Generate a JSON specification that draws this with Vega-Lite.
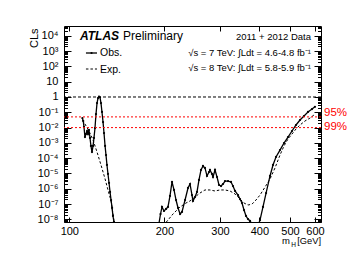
{
"$schema": "https://vega.github.io/schema/vega-lite/v6.json",
"width": 257, "height": 196,
"autosize": {"type": "none"},
"padding": {"left": 64, "top": 26, "right": 39, "bottom": 46},
"background": "white",
"config": {
  "view": {"stroke": "black", "strokeWidth": 1},
  "font": "Liberation Sans",
  "axis": {"domain": false, "grid": false, "labelFont": "Liberation Sans", "labelFontSize": 11, "labelColor": "black", "tickColor": "black", "tickWidth": 1, "titleFont": "Liberation Sans", "titleColor": "black", "titleFontWeight": "normal"},
  "text": {"font": "Liberation Sans", "color": "black"}
},
"datasets": {
  "obs": [
    {"m":110.0,"cls":0.042},{"m":110.7,"cls":0.027},{"m":111.3,"cls":0.011},{"m":112.1,"cls":0.0024},{"m":112.9,"cls":0.0038},{"m":113.8,"cls":0.006},{"m":114.6,"cls":0.0038},{"m":115.4,"cls":0.007},{"m":116.3,"cls":0.0021},{"m":117.1,"cls":0.00063},{"m":118.0,"cls":0.00025},{"m":118.9,"cls":0.00063},{"m":119.7,"cls":0.0021},{"m":120.6,"cls":0.0094},{"m":121.5,"cls":0.077},{"m":122.4,"cls":0.40},{"m":123.3,"cls":0.85},{"m":124.2,"cls":1.05},{"m":125.1,"cls":0.95},{"m":126.0,"cls":0.40},{"m":126.9,"cls":0.105},{"m":127.9,"cls":0.023},{"m":128.8,"cls":0.0044},{"m":129.8,"cls":0.00063},{"m":130.7,"cls":0.00016},{"m":131.6,"cls":3.6e-5},{"m":132.6,"cls":9.3e-6},{"m":133.6,"cls":2.4e-6},{"m":134.6,"cls":6.2e-7},{"m":135.6,"cls":1.85e-7},{"m":136.6,"cls":5.6e-8},{"m":137.5,"cls":1.67e-8},{"m":138.5,"cls":6.8e-9},{"m":139.6,"cls":2e-9},
    {"m":192.4,"cls":5.8e-9},{"m":194.5,"cls":2.25e-8},{"m":196.6,"cls":6.5e-8},{"m":199.5,"cls":3.54e-8},{"m":202.5,"cls":4.8e-8},{"m":205.4,"cls":6.5e-8},{"m":208.4,"cls":3.4e-7},{"m":211.5,"cls":2.8e-6},{"m":214.6,"cls":8.4e-7},{"m":217.8,"cls":1.85e-7},{"m":221.0,"cls":5.6e-8},{"m":224.3,"cls":2.25e-8},{"m":227.5,"cls":3.05e-8},{"m":232.6,"cls":1.85e-7},{"m":237.7,"cls":1.13e-6},{"m":241.2,"cls":2.06e-6},{"m":244.7,"cls":3.9e-7},{"m":246.5,"cls":1.6e-7},{"m":250.1,"cls":2.9e-7},{"m":253.8,"cls":6.2e-7},{"m":257.5,"cls":3.8e-6},{"m":261.3,"cls":1.7e-5},{"m":265.1,"cls":3.1e-5},{"m":269.0,"cls":2.3e-5},{"m":273.0,"cls":6.9e-6},{"m":277.0,"cls":1.25e-5},{"m":279.0,"cls":1.7e-5},{"m":283.1,"cls":9.3e-6},{"m":285.2,"cls":5.9e-6},{"m":289.4,"cls":1.7e-5},{"m":293.7,"cls":5.9e-6},{"m":298.0,"cls":1.77e-6},{"m":302.4,"cls":1.52e-6},{"m":306.8,"cls":2.06e-6},{"m":311.3,"cls":3.2e-6},{"m":318.2,"cls":3.2e-6},{"m":325.2,"cls":2.8e-6},{"m":330.0,"cls":1.52e-6},{"m":334.9,"cls":7.2e-7},{"m":342.3,"cls":3.9e-7},{"m":347.3,"cls":2.15e-7},{"m":352.4,"cls":1.18e-7},{"m":357.6,"cls":4.1e-8},{"m":362.8,"cls":1.67e-8},{"m":368.2,"cls":1.06e-8},{"m":373.6,"cls":7.9e-9},{"m":379.1,"cls":5e-9},
    {"m":396.0,"cls":3.7e-9},{"m":401.8,"cls":9.1e-9},{"m":410.7,"cls":6.5e-8},{"m":420.0,"cls":5.3e-7},{"m":432.3,"cls":6.9e-6},{"m":441.8,"cls":3.6e-5},{"m":451.6,"cls":1.2e-4},{"m":464.9,"cls":3.4e-4},{"m":478.7,"cls":9.8e-4},{"m":492.9,"cls":0.0024},{"m":507.5,"cls":0.006},{"m":522.5,"cls":0.0148},{"m":538.0,"cls":0.0314},{"m":553.9,"cls":0.0573},{"m":570.3,"cls":0.105},{"m":587.2,"cls":0.164},{"m":600,"cls":0.23}
  ],
  "exp": [
    {"m":110,"cls":0.031},{"m":112.1,"cls":0.0172},{"m":115.4,"cls":0.006},{"m":118.9,"cls":0.00155},{"m":122.4,"cls":2.54e-4},{"m":126.0,"cls":3.6e-5},{"m":129.8,"cls":4.4e-6},{"m":132.6,"cls":8.4e-7},{"m":135.6,"cls":1.6e-7},{"m":137.5,"cls":2.25e-8},{"m":139.6,"cls":2.7e-9},
    {"m":198.1,"cls":3.7e-9},{"m":205.4,"cls":9.1e-9},{"m":213.0,"cls":2.25e-8},{"m":224.3,"cls":6.5e-8},{"m":234.3,"cls":1.18e-7},{"m":241.2,"cls":1.6e-7},{"m":250.1,"cls":2.9e-7},{"m":259.4,"cls":5.3e-7},{"m":269.0,"cls":8.4e-7},{"m":279.0,"cls":8.4e-7},{"m":289.4,"cls":7.2e-7},{"m":300.2,"cls":8.4e-7},{"m":311.3,"cls":8.4e-7},{"m":322.8,"cls":7.2e-7},{"m":334.9,"cls":4.6e-7},{"m":347.3,"cls":2.15e-7},{"m":357.6,"cls":1.18e-7},{"m":368.2,"cls":8.7e-8},{"m":379.1,"cls":1.0e-7},{"m":390.3,"cls":1.85e-7},{"m":401.8,"cls":3.9e-7},{"m":416.9,"cls":1.3e-6},{"m":432.3,"cls":4.4e-6},{"m":448.3,"cls":2.3e-5},{"m":464.9,"cls":1.6e-4},{"m":478.7,"cls":6.3e-4},{"m":492.9,"cls":0.0018},{"m":507.5,"cls":0.0038},{"m":522.5,"cls":0.0081},{"m":538.0,"cls":0.0148},{"m":557.9,"cls":0.027},{"m":578.7,"cls":0.042},{"m":600,"cls":0.075}
  ],
  "limits": [{"cl": 0.05}, {"cl": 0.01}]
},
"layer": [
  {"data": {"name": "exp"},
   "mark": {"type": "line", "color": "black", "strokeWidth": 1, "strokeDash": [2.5, 2], "clip": true},
   "encoding": {
     "x": {"field": "m", "type": "quantitative", "scale": {"type": "log", "domain": [96.2, 627], "nice": false},
           "axis": {"orient": "top", "values": [100,200,300,400,500,600], "labels": false, "tickSize": -5, "title": null}},
     "y": {"field": "cls", "type": "quantitative", "scale": {"type": "log", "domain": [6.76e-9, 43700], "nice": false},
           "axis": {"orient": "right", "labels": false, "title": null,
                    "values": [7e-9,8e-9,9e-9,1e-8,2e-8,3e-8,4e-8,5e-8,6e-8,7e-8,8e-8,9e-8,1e-7,2e-7,3e-7,4e-7,5e-7,6e-7,7e-7,8e-7,9e-7,1e-6,2e-6,3e-6,4e-6,5e-6,6e-6,7e-6,8e-6,9e-6,1e-5,2e-5,3e-5,4e-5,5e-5,6e-5,7e-5,8e-5,9e-5,1e-4,2e-4,3e-4,4e-4,5e-4,6e-4,7e-4,8e-4,9e-4,0.001,0.002,0.003,0.004,0.005,0.006,0.007,0.008,0.009,0.01,0.02,0.03,0.04,0.05,0.06,0.07,0.08,0.09,0.1,0.2,0.3,0.4,0.5,0.6,0.7,0.8,0.9,1,2,3,4,5,6,7,8,9,10,20,30,40,50,60,70,80,90,100,200,300,400,500,600,700,800,900,1000,2000,3000,4000,5000,6000,7000,8000,9000,10000,20000,30000,40000],
                    "tickSize": {"condition": {"test": "abs(log(datum.value)/LN10 - round(log(datum.value)/LN10)) < 0.001", "value": -7}, "value": -3.5}}}
   }},
  {"data": {"name": "obs"},
   "mark": {"type": "line", "color": "black", "strokeWidth": 1.3, "clip": true},
   "encoding": {
     "x": {"field": "m", "type": "quantitative", "scale": {"type": "log", "domain": [96.2, 627], "nice": false},
           "axis": {"orient": "bottom", "values": [100,200,300,400,500,600], "format": "d", "tickSize": -5, "labelPadding": 8, "title": null}},
     "y": {"field": "cls", "type": "quantitative", "scale": {"type": "log", "domain": [6.76e-9, 43700], "nice": false},
           "axis": {"orient": "left", "title": "CLs", "titleFontSize": 11, "titleAngle": -90, "titleX": -27, "titleY": 2, "titleAlign": "right", "titleBaseline": "alphabetic",
                    "labelPadding": 13,
                    "values": [7e-9,8e-9,9e-9,1e-8,2e-8,3e-8,4e-8,5e-8,6e-8,7e-8,8e-8,9e-8,1e-7,2e-7,3e-7,4e-7,5e-7,6e-7,7e-7,8e-7,9e-7,1e-6,2e-6,3e-6,4e-6,5e-6,6e-6,7e-6,8e-6,9e-6,1e-5,2e-5,3e-5,4e-5,5e-5,6e-5,7e-5,8e-5,9e-5,1e-4,2e-4,3e-4,4e-4,5e-4,6e-4,7e-4,8e-4,9e-4,0.001,0.002,0.003,0.004,0.005,0.006,0.007,0.008,0.009,0.01,0.02,0.03,0.04,0.05,0.06,0.07,0.08,0.09,0.1,0.2,0.3,0.4,0.5,0.6,0.7,0.8,0.9,1,2,3,4,5,6,7,8,9,10,20,30,40,50,60,70,80,90,100,200,300,400,500,600,700,800,900,1000,2000,3000,4000,5000,6000,7000,8000,9000,10000,20000,30000,40000],
                    "labelExpr": "abs(log(datum.value)/LN10 - round(log(datum.value)/LN10)) > 0.001 ? '' : (round(log(datum.value)/LN10) == 0 ? '1' : (round(log(datum.value)/LN10) == 1 ? '10' : '10' + ['⁻⁸','⁻⁷','⁻⁶','⁻⁵','⁻⁴','⁻³','⁻²','⁻¹','⁰','¹','²','³','⁴'][round(log(datum.value)/LN10) + 8]))",
                    "tickSize": {"condition": {"test": "abs(log(datum.value)/LN10 - round(log(datum.value)/LN10)) < 0.001", "value": -7}, "value": -3.5}}}
   }},
  {"data": {"name": "obs"},
   "mark": {"type": "point", "filled": true, "color": "black", "size": 5, "opacity": 1, "clip": true},
   "encoding": {
     "x": {"field": "m", "type": "quantitative", "scale": {"type": "log", "domain": [96.2, 627], "nice": false}, "axis": null},
     "y": {"field": "cls", "type": "quantitative", "scale": {"type": "log", "domain": [6.76e-9, 43700], "nice": false}, "axis": null}
   }},
  {"data": {"values": [{}]},
   "mark": {"type": "rule", "color": "black", "strokeWidth": 1, "strokeDash": [3, 2]},
   "encoding": {"y": {"datum": 1, "type": "quantitative", "scale": {"type": "log", "domain": [6.76e-9, 43700], "nice": false}, "axis": null}}},
  {"data": {"name": "limits"},
   "mark": {"type": "rule", "color": "#ff0000", "strokeWidth": 1, "strokeDash": [2, 2]},
   "encoding": {"y": {"field": "cl", "type": "quantitative", "scale": {"type": "log", "domain": [6.76e-9, 43700], "nice": false}, "axis": null}}},
  {"data": {"values": [{}]},
   "layer": [
     {"mark": {"type": "text", "text": "ATLAS", "align": "left", "baseline": "alphabetic", "fontSize": 12, "fontWeight": "bold", "fontStyle": "italic"},
      "encoding": {"x": {"datum": 108.1}, "y": {"datum": 5310}}},
     {"mark": {"type": "text", "text": "Preliminary", "align": "left", "baseline": "alphabetic", "fontSize": 12},
      "encoding": {"x": {"datum": 147.9}, "y": {"datum": 5310}}},
     {"mark": {"type": "text", "text": "2011 + 2012 Data", "align": "right", "baseline": "alphabetic", "fontSize": 9.5},
      "encoding": {"x": {"datum": 582.9}, "y": {"datum": 5310}}},
     {"mark": {"type": "text", "text": "√s = 7 TeV:  ∫Ldt = 4.6-4.8 fb⁻¹", "align": "right", "baseline": "alphabetic", "fontSize": 9.5},
      "encoding": {"x": {"datum": 582.9}, "y": {"datum": 478}}},
     {"mark": {"type": "text", "text": "√s = 8 TeV:  ∫Ldt = 5.8-5.9 fb⁻¹", "align": "right", "baseline": "alphabetic", "fontSize": 9.5},
      "encoding": {"x": {"datum": 582.9}, "y": {"datum": 50}}},
     {"mark": {"type": "rule", "color": "black", "strokeWidth": 1.3},
      "encoding": {"x": {"datum": 112.9}, "x2": {"datum": 122.4}, "y": {"datum": 751}}},
     {"mark": {"type": "point", "filled": true, "color": "black", "size": 5, "opacity": 1},
      "encoding": {"x": {"datum": 117.6}, "y": {"datum": 751}}},
     {"mark": {"type": "text", "text": "Obs.", "align": "left", "baseline": "middle", "fontSize": 10.5},
      "encoding": {"x": {"datum": 125.1}, "y": {"datum": 697}}},
     {"mark": {"type": "rule", "color": "black", "strokeWidth": 1, "strokeDash": [2.5, 2]},
      "encoding": {"x": {"datum": 112.9}, "x2": {"datum": 122.4}, "y": {"datum": 67.6}}},
     {"mark": {"type": "text", "text": "Exp.", "align": "left", "baseline": "middle", "fontSize": 10.5},
      "encoding": {"x": {"datum": 125.1}, "y": {"datum": 62.7}}},
     {"mark": {"type": "text", "text": "95%", "align": "left", "baseline": "middle", "fontSize": 11.5, "color": "#ff0000"},
      "encoding": {"x": {"datum": 641.1}, "y": {"datum": 0.097}}},
     {"mark": {"type": "text", "text": "99%", "align": "left", "baseline": "middle", "fontSize": 11.5, "color": "#ff0000"},
      "encoding": {"x": {"datum": 641.1}, "y": {"datum": 0.0109}}},
     {"mark": {"type": "text", "text": "m", "align": "left", "baseline": "alphabetic", "fontSize": 9.5},
      "encoding": {"x": {"datum": 471.8}, "y": {"datum": 2.47e-10}}},
     {"mark": {"type": "text", "text": "H", "align": "left", "baseline": "alphabetic", "fontSize": 6.5},
      "encoding": {"x": {"datum": 505}, "y": {"datum": 1.57e-10}}},
     {"mark": {"type": "text", "text": "[GeV]", "align": "right", "baseline": "alphabetic", "fontSize": 9.3},
      "encoding": {"x": {"datum": 627}, "y": {"datum": 2.47e-10}}}
   ],
   "encoding": {
     "x": {"type": "quantitative", "scale": {"type": "log", "domain": [96.2, 627], "nice": false}, "axis": null},
     "y": {"type": "quantitative", "scale": {"type": "log", "domain": [6.76e-9, 43700], "nice": false}, "axis": null}
   }}
],
"resolve": {"axis": {"x": "independent", "y": "independent"}}
}
